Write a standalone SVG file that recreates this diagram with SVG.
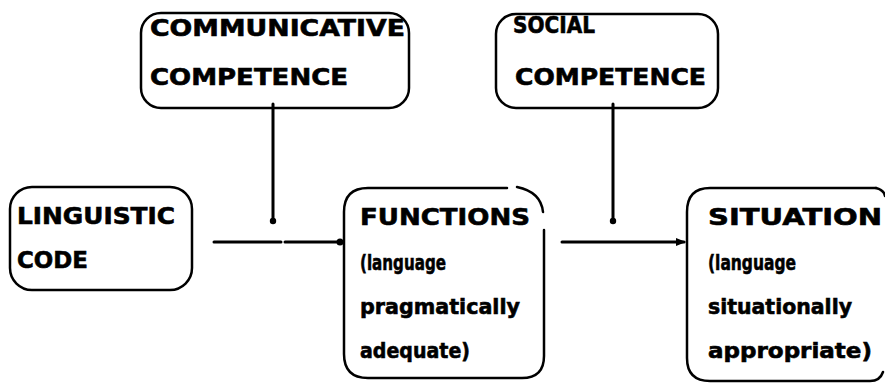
<svg xmlns="http://www.w3.org/2000/svg" width="885" height="387" viewBox="0 0 885 387">
<style>
.box{fill:none;stroke:#000;stroke-width:2.5;stroke-linecap:round}
.t{font-family:"DejaVu Sans","Liberation Sans",sans-serif;font-weight:bold;font-size:23px;fill:#000;stroke:#000;stroke-width:0.6}
.s{font-size:21px}
.ln{fill:none;stroke:#000;stroke-width:3;stroke-linecap:round}
</style>
<rect width="885" height="387" fill="#fff"/>
<g id="communicative">
<rect class="box" x="141" y="13" width="268" height="95" rx="20"/>
<text class="t" x="150" y="36" textLength="255" lengthAdjust="spacingAndGlyphs">COMMUNICATIVE</text>
<text class="t" x="150" y="85" textLength="198" lengthAdjust="spacingAndGlyphs">COMPETENCE</text>
</g>
<g id="social">
<rect class="box" x="496" y="14" width="222" height="94" rx="20"/>
<text class="t" x="513" y="33" textLength="82" lengthAdjust="spacingAndGlyphs">SOCIAL</text>
<text class="t" x="515" y="85" textLength="191" lengthAdjust="spacingAndGlyphs">COMPETENCE</text>
</g>
<g id="linguistic">
<rect class="box" x="10" y="187" width="182" height="103" rx="22"/>
<text class="t" x="17" y="224" textLength="158" lengthAdjust="spacingAndGlyphs">LINGUISTIC</text>
<text class="t" x="17" y="268" textLength="71" lengthAdjust="spacingAndGlyphs">CODE</text>
</g>
<g id="functions">
<path class="box" d="M507,188 H368 Q344,188 344,212 V354 Q344,378 368,378 H522 Q544,378 544,356 V230"/>
<path class="box" d="M517,187 Q541,192 543,212"/>
<text class="t" x="360" y="225" textLength="170" lengthAdjust="spacingAndGlyphs">FUNCTIONS</text>
<text class="t s" x="360" y="270" textLength="86" lengthAdjust="spacingAndGlyphs">(language</text>
<text class="t s" x="360" y="314" textLength="160" lengthAdjust="spacingAndGlyphs">pragmatically</text>
<text class="t s" x="360" y="358" textLength="110" lengthAdjust="spacingAndGlyphs">adequate)</text>
</g>
<g id="situation">
<path class="box" d="M876,188 H710 Q687,188 687,212 V358 Q687,381 710,381 H870 Q880,381 883,372"/>
<path class="box" d="M876,188 Q884,190 885,196"/>
<text class="t" x="708" y="225" textLength="174" lengthAdjust="spacingAndGlyphs">SITUATION</text>
<text class="t s" x="708" y="270" textLength="88" lengthAdjust="spacingAndGlyphs">(language</text>
<text class="t s" x="708" y="314" textLength="144" lengthAdjust="spacingAndGlyphs">situationally</text>
<text class="t s" x="708" y="358" textLength="164" lengthAdjust="spacingAndGlyphs">appropriate)</text>
</g>
<g id="connectors">
<path class="ln" d="M273,104 V221"/>
<circle cx="273" cy="221" r="3.2"/>
<path class="ln" d="M214,242 H281 M285,242 H340"/>
<circle cx="340" cy="242" r="3.5"/>
<path class="ln" d="M613,104 V221"/>
<circle cx="613" cy="221" r="3.2"/>
<path class="ln" d="M562,242 H684"/>
<path d="M676,238 L686,242 L676,246 Z"/>
</g>
</svg>
